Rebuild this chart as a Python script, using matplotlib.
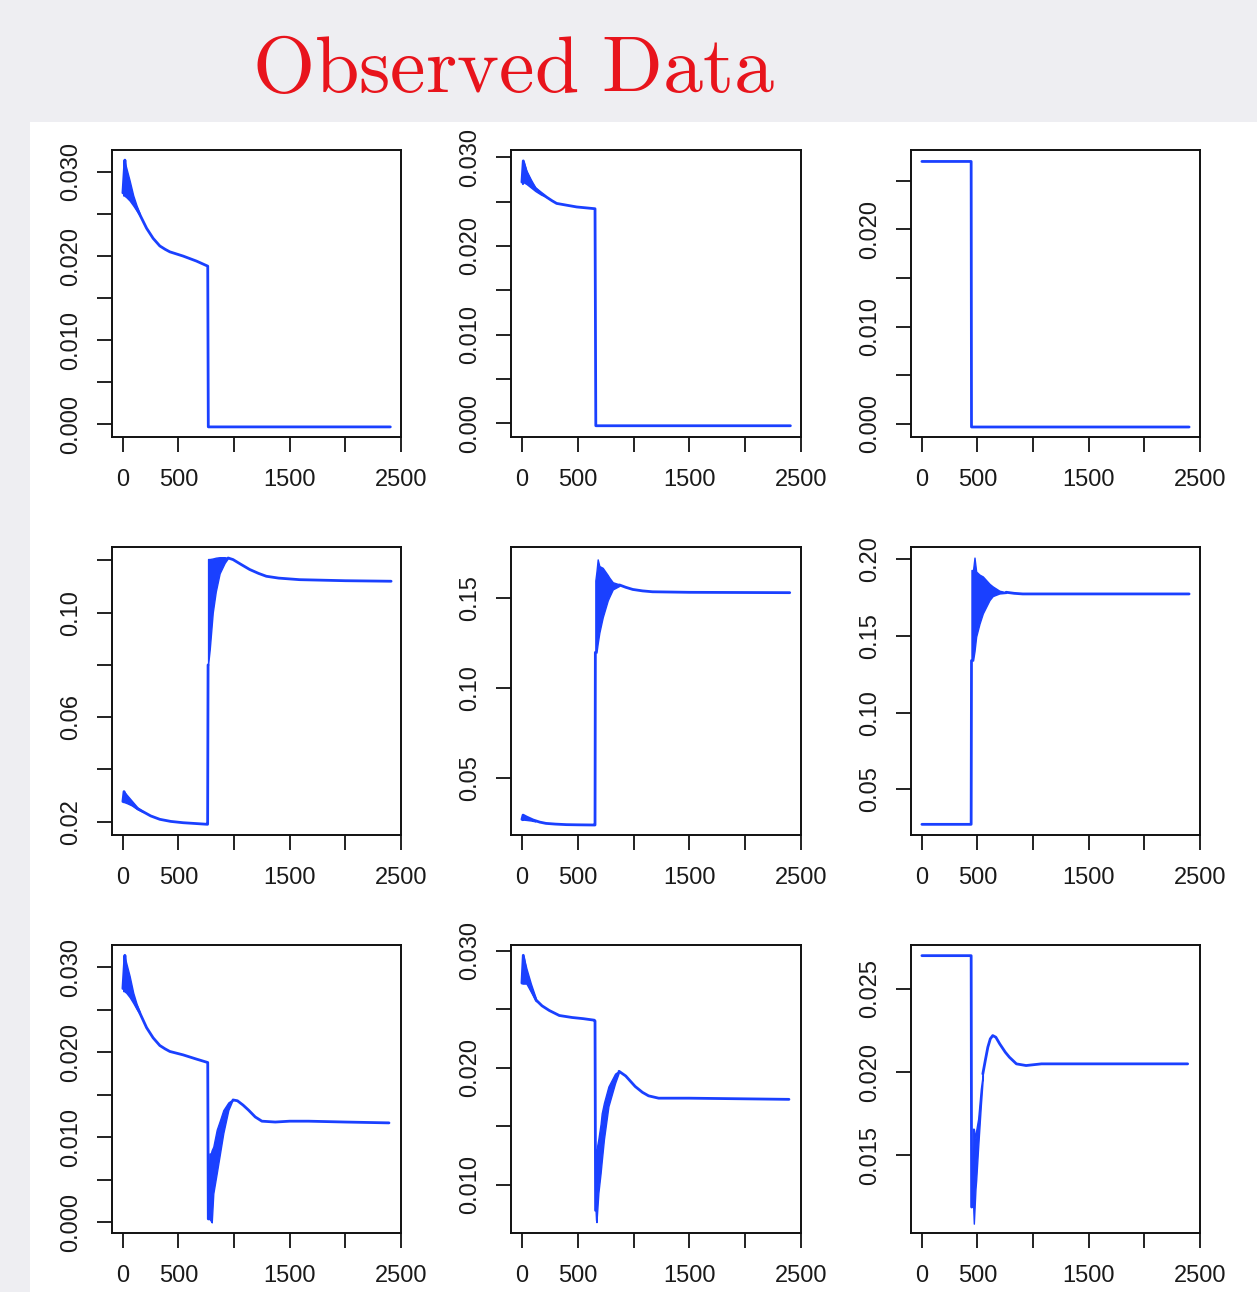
import matplotlib
matplotlib.use("Agg")
import matplotlib.pyplot as plt
from matplotlib.patches import Rectangle
from matplotlib.ticker import FixedLocator, FixedFormatter

plt.rcParams['mathtext.fontset'] = 'cm'
plt.rcParams['font.family'] = ['Liberation Sans', 'DejaVu Sans']

W, H = 1257, 1292
BLUE = '#1a40ff'
NA = float('nan')   # break in a line (the oscillating part is drawn as a band)

# ---------------- data (time, value) ----------------
# Panel A (row 1, col 1)
a_t = [0, 18, 30, 60, 93, 153, 213, 272, 332, 380, 422, 541, 662, 763, 768, 2405]
a_y = [0.0275, 0.0314, 0.0290, 0.0278, 0.0265, 0.0249, 0.0233, 0.0221, 0.0212, 0.0208,
       0.0205, 0.0200, 0.0194, 0.0188, -0.0003, -0.0003]
a_bt = [3, 10, 30, 60, 93, 123, 153]
a_hi = [0.0290, 0.0315, 0.0305, 0.0290, 0.0272, 0.0260, 0.0250]
a_lo = [0.0272, 0.0272, 0.0270, 0.0266, 0.0260, 0.0254, 0.0248]

# Panel B (row 1, col 2)
b_t = [0, 12, 40, 80, 120, 170, 222, 270, 311, 400, 491, 655, 662, 2406]
b_y = [0.0272, 0.0296, 0.0283, 0.0272, 0.0265, 0.0260, 0.0255, 0.0251, 0.0248, 0.0246,
       0.0244, 0.0242, -0.0003, -0.0003]
b_bt = [4, 12, 40, 80, 120, 170, 222]
b_hi = [0.0285, 0.0296, 0.0285, 0.0275, 0.0266, 0.0260, 0.0255]
b_lo = [0.0270, 0.0272, 0.0270, 0.0266, 0.0262, 0.0258, 0.0255]

# Panel C (row 1, col 3)
c_t = [0, 443, 446, 2403]
c_y = [0.0270, 0.0270, -0.00035, -0.00035]

# Panel D (row 2, col 1)
d_t = [0, 10, 40, 80, 130, 182, 250, 332, 430, 541, 650, 757, 762, 766, NA,
       946, 990, 1060, 1140, 1220, 1290, 1400, 1589, 2000, 2412]
d_y = [0.0277, 0.0315, 0.0285, 0.0268, 0.0250, 0.0238, 0.0222, 0.0209, 0.0201, 0.0196,
       0.0193, 0.0190, 0.0190, 0.0800, NA,
       0.1209, 0.1203, 0.1185, 0.1165, 0.1150, 0.1139, 0.1132, 0.1126, 0.1122, 0.1120]
d_bt1 = [3, 10, 40, 80, 130, 182]
d_hi1 = [0.0290, 0.0315, 0.0300, 0.0280, 0.0255, 0.0239]
d_lo1 = [0.0275, 0.0275, 0.0270, 0.0262, 0.0248, 0.0237]
d_bt2 = [766, 781, 808, 835, 870, 915, 946]
d_hi2 = [0.1205, 0.1205, 0.1207, 0.1210, 0.1212, 0.1212, 0.1209]
d_lo2 = [0.0800, 0.0860, 0.1000, 0.1080, 0.1150, 0.1190, 0.1209]

# Panel E (row 2, col 2)
e_t = [0, 10, 40, 100, 160, 215, 300, 400, 500, 649, 655, 658, NA,
       874, 930, 993, 1080, 1170, 1500, 2400]
e_y = [0.0271, 0.0295, 0.0285, 0.0268, 0.0256, 0.0249, 0.0245, 0.0242, 0.0241, 0.0240, 0.0240, 0.1200, NA,
       0.1575, 0.1562, 0.1550, 0.1542, 0.1537, 0.1534, 0.1532]
e_bt1 = [2, 10, 40, 80, 120]
e_hi1 = [0.0280, 0.0295, 0.0283, 0.0270, 0.0262]
e_lo1 = [0.0268, 0.0270, 0.0268, 0.0265, 0.0260]
e_bt2 = [658, 668, 679, 694, 724, 769, 784, 814, 874]
e_hi2 = [0.1600, 0.1650, 0.1717, 0.1680, 0.1670, 0.1630, 0.1615, 0.1590, 0.1578]
e_lo2 = [0.1200, 0.1199, 0.1250, 0.1310, 0.1395, 0.1489, 0.1510, 0.1550, 0.1570]

# Panel F (row 2, col 3)
f_t = [0, 443, 446, NA, 757, 830, 907, 2403]
f_y = [0.0272, 0.0272, 0.1340, NA, 0.1785, 0.1778, 0.1774, 0.1774]
f_bt = [446, 460, 473, 488, 518, 548, 608, 637, 697, 757]
f_hi = [0.1930, 0.1930, 0.2011, 0.1920, 0.1900, 0.1888, 0.1840, 0.1823, 0.1795, 0.1785]
f_lo = [0.1340, 0.1340, 0.1400, 0.1496, 0.1580, 0.1647, 0.1734, 0.1760, 0.1777, 0.1781]

# Panel G (row 3, col 1)
g_t = [0, 18, 30, 60, 93, 153, 213, 272, 332, 380, 422, 541, 662, 763, 768, NA,
       990, 1030, 1080, 1130, 1190, 1250, 1370, 1500, 1670, 2000, 2393]
g_y = [0.0275, 0.0314, 0.0290, 0.0277, 0.0263, 0.0246, 0.0229, 0.0217, 0.0208, 0.0204,
       0.0201, 0.0197, 0.0192, 0.0188, 0.0004, NA,
       0.0144, 0.0143, 0.0138, 0.0132, 0.0124, 0.0119, 0.0118, 0.0119, 0.0119, 0.0118, 0.0117]
g_bt1 = [3, 10, 30, 60, 93, 123, 153]
g_hi1 = [0.0290, 0.0315, 0.0305, 0.0290, 0.0270, 0.0257, 0.0247]
g_lo1 = [0.0272, 0.0272, 0.0270, 0.0265, 0.0258, 0.0251, 0.0245]
g_bt2 = [768, 778, 790, 799, 813, 844, 873, 903, 948, 980, 990]
g_hi2 = [0.0004, 0.0081, 0.0081, 0.0085, 0.0089, 0.0109, 0.0120, 0.0132, 0.0141, 0.0144, 0.0144]
g_lo2 = [0.0004, 0.0004, 0.0002, 0.0000, 0.0034, 0.0058, 0.0081, 0.0105, 0.0132, 0.0142, 0.0144]

# Panel H (row 3, col 2)
h_t = [0, 12, 40, 80, 126, 180, 245, 335, 450, 550, 649, 655, 660, NA,
       870, 930, 1015, 1080, 1135, 1225, 1495, 2393]
h_y = [0.02724, 0.02962, 0.0280, 0.0268, 0.0258, 0.0253, 0.0249, 0.02447, 0.0243, 0.0242,
       0.02407, 0.0240, 0.0078, NA,
       0.0197, 0.0193, 0.0184, 0.0179, 0.0176, 0.0174, 0.0174, 0.0173]
h_bt1 = [4, 12, 40, 80, 126]
h_hi1 = [0.0285, 0.0296, 0.0285, 0.0272, 0.0259]
h_lo1 = [0.0272, 0.0272, 0.0272, 0.0265, 0.0257]
h_bt2 = [660, 664, 668, 685, 705, 715, 735, 775, 835, 865, 870]
h_hi2 = [0.0078, 0.0130, 0.0130, 0.0139, 0.0152, 0.0161, 0.0170, 0.0184, 0.0195, 0.0197, 0.0197]
h_lo2 = [0.0078, 0.0070, 0.0068, 0.0093, 0.0110, 0.0120, 0.0139, 0.0167, 0.0187, 0.0195, 0.0197]

# Panel I (row 3, col 3)
i_t = [0, 443, 447, NA, 548, 570, 593, 615, 637, 665, 700, 750, 787, 850, 937, 1075, 2390]
i_y = [0.0270, 0.0270, 0.0119, NA, 0.0199, 0.0207, 0.0215, 0.0220, 0.0222, 0.0221, 0.0217,
       0.0212, 0.0209, 0.0205, 0.0204, 0.0205, 0.0205]
i_bt = [447, 458, 467, 482, 488, 506, 530, 548]
i_hi = [0.0119, 0.0166, 0.0166, 0.0160, 0.0165, 0.0172, 0.0190, 0.0199]
i_lo = [0.0119, 0.0125, 0.0109, 0.0130, 0.0135, 0.0155, 0.0180, 0.0197]

x_ticks = [0, 500, 1000, 1500, 2000, 2500]
x_labels = ['0', '500', '', '1500', '', '2500']

# ---------------- figure ----------------
fig = plt.figure(figsize=(W / 100, H / 100), dpi=100)
fig.patch.set_facecolor('#eeeef2')
fig.patches.append(Rectangle((30 / W, 0), 1, (H - 122) / H, transform=fig.transFigure,
                             facecolor='white', edgecolor='none', zorder=-5))

fig.text(514 / W, 1 - 72 / H, r'$\mathrm{Observed\ Data}$', color='#e8141c',
         fontsize=57.5, ha='center', va='center')

cols = [(112, 401), (511, 801), (911, 1200)]
rows = [(150, 437), (547, 835), (945, 1233)]

panels = [
    dict(t=a_t, y=a_y, bands=[(a_bt, a_lo, a_hi)], ylim=(-0.0015, 0.0326),
         yt=[0, 0.005, 0.01, 0.015, 0.02, 0.025, 0.03],
         yl=['0.000', '', '0.010', '', '0.020', '', '0.030']),
    dict(t=b_t, y=b_y, bands=[(b_bt, b_lo, b_hi)], ylim=(-0.00157, 0.03083),
         yt=[0, 0.005, 0.01, 0.015, 0.02, 0.025, 0.03],
         yl=['0.000', '', '0.010', '', '0.020', '', '0.030']),
    dict(t=c_t, y=c_y, bands=[], ylim=(-0.00138, 0.02818),
         yt=[0, 0.005, 0.01, 0.015, 0.02, 0.025],
         yl=['0.000', '', '0.010', '', '0.020', '']),
    dict(t=d_t, y=d_y, bands=[(d_bt1, d_lo1, d_hi1), (d_bt2, d_lo2, d_hi2)], ylim=(0.0149, 0.1251),
         yt=[0.02, 0.04, 0.06, 0.08, 0.10, 0.12],
         yl=['0.02', '', '0.06', '', '0.10', '']),
    dict(t=e_t, y=e_y, bands=[(e_bt1, e_lo1, e_hi1), (e_bt2, e_lo2, e_hi2)], ylim=(0.01844, 0.1786),
         yt=[0.05, 0.10, 0.15], yl=['0.05', '0.10', '0.15']),
    dict(t=f_t, y=f_y, bands=[(f_bt, f_lo, f_hi)], ylim=(0.02025, 0.208),
         yt=[0.05, 0.10, 0.15, 0.20], yl=['0.05', '0.10', '0.15', '0.20']),
    dict(t=g_t, y=g_y, bands=[(g_bt1, g_lo1, g_hi1), (g_bt2, g_lo2, g_hi2)], ylim=(-0.00125, 0.03262),
         yt=[0, 0.005, 0.01, 0.015, 0.02, 0.025, 0.03],
         yl=['0.000', '', '0.010', '', '0.020', '', '0.030']),
    dict(t=h_t, y=h_y, bands=[(h_bt1, h_lo1, h_hi1), (h_bt2, h_lo2, h_hi2)], ylim=(0.00587, 0.0305),
         yt=[0.01, 0.015, 0.02, 0.025, 0.03],
         yl=['0.010', '', '0.020', '', '0.030']),
    dict(t=i_t, y=i_y, bands=[(i_bt, i_lo, i_hi)], ylim=(0.01034, 0.02764),
         yt=[0.015, 0.02, 0.025], yl=['0.015', '0.020', '0.025']),
]

for k, p in enumerate(panels):
    r, c = divmod(k, 3)
    x0, x1 = cols[c]
    y0, y1 = rows[r]
    ax = fig.add_axes([x0 / W, 1 - y1 / H, (x1 - x0) / W, (y1 - y0) / H], zorder=2)
    ax.set_facecolor('none')
    ax.plot(p['t'], p['y'], color=BLUE, lw=2.0, solid_joinstyle='round', solid_capstyle='round')
    for bt, lo, hi in p['bands']:
        ax.fill_between(bt, lo, hi, color=BLUE, lw=1.0, edgecolor=BLUE)
    ax.set_xlim(-98, 2501)
    ax.set_ylim(*p['ylim'])
    ax.xaxis.set_major_locator(FixedLocator(x_ticks))
    ax.xaxis.set_major_formatter(FixedFormatter(x_labels))
    ax.yaxis.set_major_locator(FixedLocator(p['yt']))
    ax.yaxis.set_major_formatter(FixedFormatter(p['yl']))
    ax.tick_params(axis='both', direction='out', length=10.8, width=1.3, color='#111111',
                   labelsize=17, labelcolor='#1a1a1a')
    ax.tick_params(axis='x', pad=12)
    ax.tick_params(axis='y', pad=11, labelrotation=90)
    for lab in ax.get_yticklabels():
        lab.set_va('center')
    for s in ax.spines.values():
        s.set_linewidth(1.4)
        s.set_color('#111111')

fig.savefig('out.png', dpi=100, facecolor=fig.get_facecolor())
